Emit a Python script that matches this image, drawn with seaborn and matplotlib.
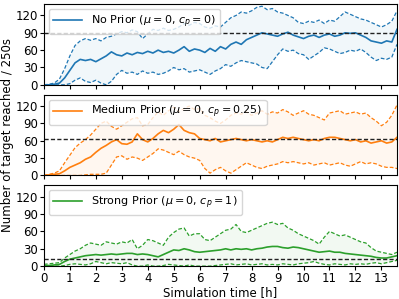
import numpy as np
import pandas as pd
import matplotlib
matplotlib.use("Agg")
import matplotlib.pyplot as plt
import seaborn as sns

# time axis in hours (0 .. 13.6 h, 0.2 h steps)
t = np.round(np.arange(69) * 0.2, 2)

none_mean = [0,0,1,3,12,25,38,44,42,44, 40,45,50,57,52,50,55,52,56,54,
             58,55,60,56,58,55,60,66,58,62, 60,56,63,58,66,62,70,74,70,78,
             82,86,90,88,86,84,88,91,86,83, 80,84,86,82,86,88,84,86,90,89,
             90,86,82,76,74,72,76,74,96]
none_upper = [0,1,3,10,28,50,68,76,80,77, 80,76,82,84,88,92,90,95,92,80,
              88,96,94,98,94,96,100,106,103,108, 106,100,98,102,100,108,116,120,126,124,
              128,134,136,130,132,126,124,120,116,108, 106,110,108,112,106,112,110,118,126,122,
              118,114,112,108,104,100,104,110,128]
none_lower = [0,0,0,0,0,2,8,12,6,4, 8,3,0,6,18,25,20,22,18,24,
              20,22,18,20,24,30,26,28,22,24, 26,22,18,24,28,35,32,38,42,40,
              38,36,30,28,40,52,62,58,60,54, 52,44,50,56,64,62,58,54,56,60,
              58,62,56,48,42,46,44,48,70]

med_mean = [0,1,2,3,8,14,18,22,28,32, 40,47,52,58,62,55,54,58,72,62,
            58,64,72,78,74,80,88,78,74,72, 64,62,60,64,58,60,62,64,62,60,
            62,60,58,60,58,62,66,64,66,64, 62,60,62,60,64,66,66,64,62,60,
            62,58,60,56,58,60,56,58,66]
med_upper = [0,2,4,8,22,35,48,56,62,70, 80,90,94,85,80,86,92,98,100,86,
             88,100,110,104,112,118,110,116,120,114, 116,104,100,94,90,96,104,108,106,110,
             104,108,112,106,110,108,114,110,104,108, 112,106,104,100,96,108,110,112,106,108,
             110,106,108,100,94,86,92,104,122]
med_lower = [0,0,0,0,0,0,0,0,1,2, 2,2,4,18,32,34,28,32,30,26,
             32,38,46,44,40,36,42,36,32,30, 26,12,4,10,14,8,4,10,16,22,
             18,14,12,16,18,20,24,22,24,22, 20,22,18,20,22,18,20,22,18,16,
             20,24,20,22,20,16,14,14,12]

strong_mean = [1,1,2,3,8,12,14,16,18,19, 20,19,20,21,20,21,22,22,20,21,
               20,18,16,20,24,28,27,30,28,25, 24,25,26,27,28,30,28,30,29,30,
               28,30,31,33,34,34,32,31,33,32, 30,28,26,24,25,26,24,24,22,21,
               20,19,18,17,15,14,14,16,18]
strong_upper = [3,4,5,6,14,20,26,30,36,40, 38,36,42,40,38,42,40,46,30,36,
                46,44,40,36,50,58,64,66,52,56, 56,46,44,50,56,62,64,72,60,58,
                62,66,70,74,76,72,74,66,62,56, 52,48,44,38,50,60,56,52,54,50,
                46,42,40,32,26,24,22,20,24]
strong_lower = [0,0,0,0,1,3,4,3,2,4, 8,6,4,6,5,4,6,2,0,0,
                2,0,0,1,3,2,1,0,2,0, 0,0,0,1,2,3,4,2,3,4,
                2,3,4,2,3,2,4,3,2,4, 5,6,8,5,3,2,4,3,2,4,
                3,4,3,5,6,4,6,8,10]

targets = [90, 63, 12]
labels = [r"No Prior ($\mu=0$, $c_p=0$)",
          r"Medium Prior ($\mu=0$, $c_p=0.25$)",
          r"Strong Prior ($\mu=0$, $c_p=1$)"]
colors = ["#1f77b4", "#ff7f0e", "#2ca02c"]
series = [(none_mean, none_upper, none_lower),
          (med_mean, med_upper, med_lower),
          (strong_mean, strong_upper, strong_lower)]

TFS = 8.5
LFS = 8.5
plt.rcParams["font.size"] = TFS
plt.rcParams["lines.dashed_pattern"] = [3.0, 1.6]
fig, axes = plt.subplots(3, 1, figsize=(3.99, 2.99), dpi=100, sharex=True)
fig.subplots_adjust(left=0.11, right=0.995, top=0.987, bottom=0.11, hspace=0.12)

for ax, (m, u, l), lab, c, tg in zip(axes, series, labels, colors, targets):
    df = pd.DataFrame({"t": t, "mean": m, "upper": u, "lower": l})
    ax.fill_between(df["t"], df["lower"], df["upper"], color=c, alpha=0.06, lw=0)
    sns.lineplot(data=df, x="t", y="mean", color=c, lw=1.2, ax=ax, label=lab)
    sns.lineplot(data=df, x="t", y="upper", color=c, lw=0.9, ls="--", ax=ax)
    sns.lineplot(data=df, x="t", y="lower", color=c, lw=0.9, ls="--", ax=ax)
    ax.axhline(tg, color="#222222", ls="--", lw=1.0)
    ax.set_ylim(0, 140)
    ax.set_yticks([0, 30, 60, 90, 120])
    ax.set_xlim(0, 13.6)
    ax.set_xticks(range(14))
    ax.set_ylabel("")
    ax.set_xlabel("")
    ax.tick_params(labelsize=TFS, length=3, pad=1.5)
    ax.legend(loc="upper left", fontsize=8, handlelength=2.6, handletextpad=0.8,
              borderpad=0.4, labelspacing=0.3, borderaxespad=0.45)

axes[1].set_ylabel("Number of target reached / 250s", fontsize=LFS, labelpad=1)
axes[2].set_xlabel("Simulation time [h]", fontsize=LFS, labelpad=0.5)

fig.savefig("out.png", dpi=100)
